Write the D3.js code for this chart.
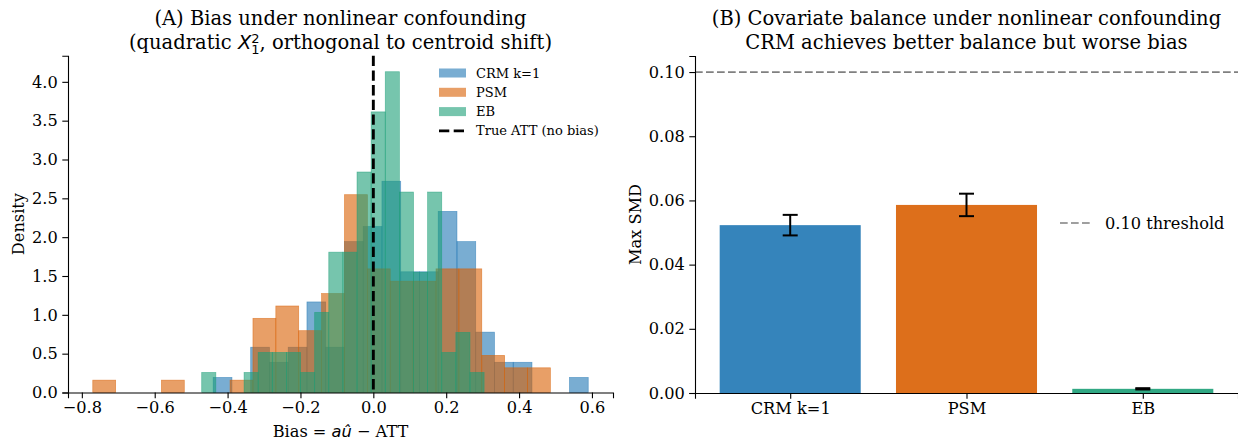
<!DOCTYPE html>
<html>
<head>
<meta charset="utf-8">
<script src="https://cdn.jsdelivr.net/npm/d3@7"></script>
<style>
  body { margin: 0; background: white; }
  svg { display: block; }
  text { font-family: "DejaVu Serif", serif; fill: #000; }
</style>
</head>
<body>
<div id="chart"></div>
<script>
// panel A: histograms of bias, 20 bins each (density)
var crmEdges = [-0.4395, 0.5898];
var psmEdges = [-0.770, 0.486];
var ebEdges = [-0.471, 0.304];
var crmDensity = [0.194, 0, 0.583, 0.389, 0.583, 1.166, 0.583, 1.943, 2.137, 2.720,
                  1.554, 1.554, 2.332, 1.943, 0.777, 0.389, 0.389, 0, 0, 0.194];
var psmDensity = [0.159, 0, 0, 0.159, 0, 0, 0.159, 0.955, 1.114, 0.796,
                  1.274, 2.547, 1.592, 1.433, 1.433, 1.592, 1.592, 0.478, 0.318, 0.318];
var ebDensity = [0.258, 0, 0, 0.258, 0.516, 0.516, 0.516, 0.258, 1.032, 1.807,
                 1.807, 2.839, 3.613, 4.130, 2.581, 1.549, 2.581, 0.516, 0.774, 0.258];
var trueAtt = 0;
var xTicksA = [-0.8, -0.6, -0.4, -0.2, 0, 0.2, 0.4, 0.6];
var yTicksA = [0, 0.5, 1, 1.5, 2, 2.5, 3, 3.5, 4];

// panel B: max SMD per method
var methods = ["CRM k=1", "PSM", "EB"];
var smdMean = [0.0523, 0.0586, 0.0013];
var smdErr = [0.0032, 0.0035, 0.0002];
var threshold = 0.10;
var yTicksB = [0, 0.02, 0.04, 0.06, 0.08, 0.10];

var colors = ["#1f77b4", "#d95f02", "#1b9e77"];

var W = 1238, H = 440;
var svg = d3.select("#chart").append("svg").attr("width", W).attr("height", H);
svg.append("rect").attr("width", W).attr("height", H).attr("fill", "white");

var tickFont = 16.2, titleFont = 19.5, legFont = 13;

// ---------- panel A ----------
var A = { left: 68, right: 613, top: 55.7, bottom: 392.5 };
var series = [
  { name: "CRM k=1", edges: crmEdges, dens: crmDensity, color: colors[0] },
  { name: "PSM", edges: psmEdges, dens: psmDensity, color: colors[1] },
  { name: "EB", edges: ebEdges, dens: ebDensity, color: colors[2] }
];
var lo = d3.min(series, function (s) { return s.edges[0]; });
var hi = d3.max(series, function (s) { return s.edges[1]; });
var pad = (hi - lo) * 0.05;
var xA = d3.scaleLinear().domain([lo - pad, hi + pad]).range([A.left, A.right]);
var yMax = d3.max(series, function (s) { return d3.max(s.dens); });
var yA = d3.scaleLinear().domain([0, yMax * 1.05]).range([A.bottom, A.top]);

var gA = svg.append("g");
series.forEach(function (s) {
  var bw = (s.edges[1] - s.edges[0]) / s.dens.length;
  var bins = s.dens.map(function (d, i) {
    return { x0: s.edges[0] + i * bw, x1: s.edges[0] + (i + 1) * bw, d: d };
  });
  gA.append("g").selectAll("rect").data(bins).enter().append("rect")
    .attr("x", function (b) { return xA(b.x0); })
    .attr("width", function (b) { return xA(b.x1) - xA(b.x0); })
    .attr("y", function (b) { return yA(b.d); })
    .attr("height", function (b) { return yA(0) - yA(b.d); })
    .attr("fill", s.color).attr("fill-opacity", 0.6)
    .attr("stroke", s.color).attr("stroke-opacity", 0.6).attr("stroke-width", 0.7);
});

gA.append("line")
  .attr("x1", xA(trueAtt)).attr("x2", xA(trueAtt))
  .attr("y1", A.top).attr("y2", A.bottom)
  .attr("stroke", "black").attr("stroke-width", 2.9)
  .attr("stroke-dasharray", "10.3,4.4");

svg.append("g").attr("transform", "translate(0," + A.bottom + ")")
  .call(d3.axisBottom(xA).tickValues(xTicksA).tickFormat(d3.format(".1f")).tickSizeOuter(0).tickSize(5.7).tickPadding(3.5));
svg.append("g").attr("transform", "translate(" + A.left + ",0)")
  .call(d3.axisLeft(yA).tickValues(yTicksA).tickFormat(d3.format(".1f")).tickSizeOuter(0).tickSize(5.7).tickPadding(4.5));

// legend A
var legA = svg.append("g");
series.forEach(function (s, i) {
  var yy = 73 + i * 19.3;
  legA.append("rect").attr("x", 439).attr("y", yy - 4.5).attr("width", 27).attr("height", 9)
    .attr("fill", s.color).attr("fill-opacity", 0.6);
  legA.append("text").attr("x", 476).attr("y", yy).attr("dy", "0.35em")
    .attr("font-size", legFont).text(s.name);
});
legA.append("line").attr("x1", 439).attr("x2", 466).attr("y1", 73 + 3 * 19.3).attr("y2", 73 + 3 * 19.3)
  .attr("stroke", "black").attr("stroke-width", 2.9).attr("stroke-dasharray", "10.3,4.4");
legA.append("text").attr("x", 476).attr("y", 73 + 3 * 19.3).attr("dy", "0.35em")
  .attr("font-size", legFont).text("True ATT (no bias)");

// titles and labels A
var cxA = (A.left + A.right) / 2;
svg.append("text").attr("x", cxA).attr("y", 25).attr("text-anchor", "middle")
  .attr("font-size", titleFont).text("(A) Bias under nonlinear confounding");
var t2 = svg.append("text").attr("x", cxA).attr("y", 48.5).attr("text-anchor", "middle")
  .attr("font-size", titleFont);
t2.append("tspan").text("(quadratic ");
t2.append("tspan").style("font-family", "'DejaVu Sans'").style("font-style", "italic").text("X");
t2.append("tspan").attr("font-size", 13).attr("dy", -6).style("font-family", "'DejaVu Sans'").text("2");
t2.append("tspan").attr("font-size", 13).attr("dx", -8.3).attr("dy", 11).style("font-family", "'DejaVu Sans'").text("1");
t2.append("tspan").attr("dy", -5).text(", orthogonal to centroid shift)");

var xl = svg.append("text").attr("x", cxA).attr("y", 437).attr("text-anchor", "middle")
  .attr("font-size", tickFont);
xl.append("tspan").text("Bias = ");
xl.append("tspan").style("font-family", "'DejaVu Sans'").style("font-style", "italic").text("a\u00fb");
xl.append("tspan").text(" \u2212 ATT");

svg.append("text").attr("transform", "translate(18.5," + ((A.top + A.bottom) / 2) + ") rotate(-90)")
  .attr("text-anchor", "middle").attr("dy", "0.35em").attr("font-size", tickFont).text("Density");

// ---------- panel B ----------
var B = { left: 695, right: 1238, top: 56, bottom: 393 };
var bw = 0.8;
var padB = ((methods.length - 1) + bw) * 0.05;
var xB = d3.scaleLinear().domain([-bw / 2 - padB, methods.length - 1 + bw / 2 + padB]).range([B.left, B.right]);
var yB = d3.scaleLinear().domain([0, threshold * 1.05]).range([B.bottom, B.top]);

var gB = svg.append("g");
gB.selectAll("rect").data(methods).enter().append("rect")
  .attr("x", function (d, i) { return xB(i - bw / 2); })
  .attr("width", function () { return xB(bw) - xB(0); })
  .attr("y", function (d, i) { return yB(smdMean[i]); })
  .attr("height", function (d, i) { return yB(0) - yB(smdMean[i]); })
  .attr("fill", function (d, i) { return colors[i]; })
  .attr("fill-opacity", 0.9);

var eb = gB.selectAll("g.err").data(methods).enter().append("g").attr("class", "err");
eb.append("line")
  .attr("x1", function (d, i) { return xB(i); }).attr("x2", function (d, i) { return xB(i); })
  .attr("y1", function (d, i) { return yB(smdMean[i] - smdErr[i]); })
  .attr("y2", function (d, i) { return yB(smdMean[i] + smdErr[i]); })
  .attr("stroke", "black").attr("stroke-width", 2);
[-1, 1].forEach(function (sg) {
  eb.append("line")
    .attr("x1", function (d, i) { return xB(i) - 7.5; }).attr("x2", function (d, i) { return xB(i) + 7.5; })
    .attr("y1", function (d, i) { return yB(smdMean[i] + sg * smdErr[i]); })
    .attr("y2", function (d, i) { return yB(smdMean[i] + sg * smdErr[i]); })
    .attr("stroke", "black").attr("stroke-width", 2);
});

gB.append("line").attr("x1", B.left).attr("x2", B.right)
  .attr("y1", yB(threshold)).attr("y2", yB(threshold))
  .attr("stroke", "#808080").attr("stroke-width", 1.7).attr("stroke-dasharray", "7.7,3.3");

svg.append("g").attr("transform", "translate(0," + B.bottom + ")")
  .call(d3.axisBottom(xB).tickValues(d3.range(methods.length)).tickFormat(function (i) { return methods[i]; })
    .tickSizeOuter(0).tickSize(5.7).tickPadding(3.5));
svg.append("g").attr("transform", "translate(" + B.left + ",0)")
  .call(d3.axisLeft(yB).tickValues(yTicksB).tickFormat(d3.format(".2f")).tickSizeOuter(0).tickSize(5.7).tickPadding(4.5));

// legend B
svg.append("line").attr("x1", 1060).attr("x2", 1092).attr("y1", 223).attr("y2", 223)
  .attr("stroke", "#808080").attr("stroke-width", 1.7).attr("stroke-dasharray", "7.7,3.3");
svg.append("text").attr("x", 1105).attr("y", 223).attr("dy", "0.35em")
  .attr("font-size", tickFont).text("0.10 threshold");

var cxB = (B.left + B.right) / 2;
svg.append("text").attr("x", cxB).attr("y", 25).attr("text-anchor", "middle")
  .attr("font-size", titleFont).text("(B) Covariate balance under nonlinear confounding");
svg.append("text").attr("x", cxB).attr("y", 48.5).attr("text-anchor", "middle")
  .attr("font-size", titleFont).text("CRM achieves better balance but worse bias");
svg.append("text").attr("transform", "translate(635," + ((B.top + B.bottom) / 2) + ") rotate(-90)")
  .attr("text-anchor", "middle").attr("dy", "0.35em").attr("font-size", tickFont).text("Max SMD");

// axis styling like matplotlib
svg.selectAll(".domain").attr("stroke", "black").attr("stroke-width", 1.1);
svg.selectAll(".tick line").attr("stroke", "black").attr("stroke-width", 1.1);
svg.selectAll(".tick text").attr("font-size", tickFont).attr("font-family", "DejaVu Serif").attr("fill", "black");
</script>
</body>
</html>
